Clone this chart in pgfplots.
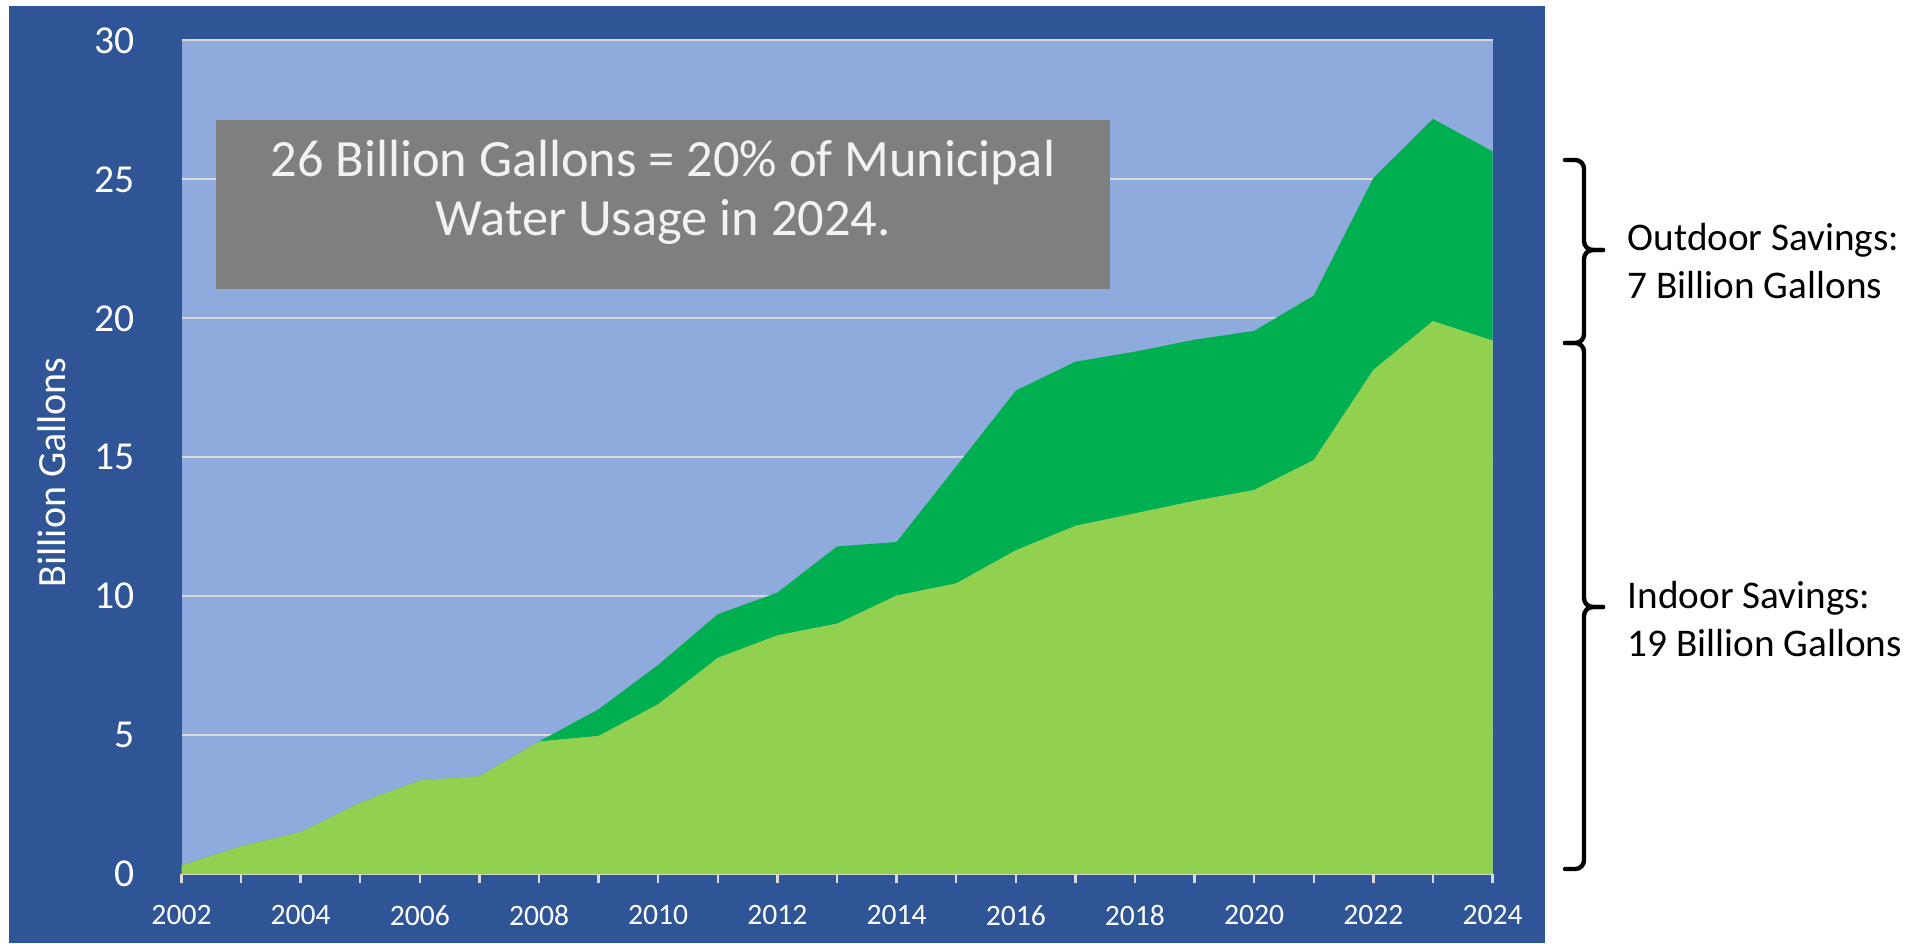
\documentclass[border=0pt]{standalone}
\usepackage{fontspec}
\setmainfont{Carlito}
\usepackage{pgfplots}
\pgfplotsset{compat=1.18}

\definecolor{panel}{HTML}{2F5597}
\definecolor{plotbg}{HTML}{8FAADC}
\definecolor{indoor}{HTML}{92D050}
\definecolor{outdoor}{HTML}{00B050}
\definecolor{gridc}{HTML}{D9D9D9}
\definecolor{boxc}{HTML}{7F7F7F}
\definecolor{boxtext}{HTML}{F2F2F2}

\begin{document}
\begin{tikzpicture}
\useasboundingbox (0,0) rectangle (480.75pt,235.75pt);
\fill[white] (0,0) rectangle (480.75pt,235.75pt);
% dark blue chart panel
\fill[panel] (2.15pt,0) rectangle (386.25pt,234.25pt);

\begin{axis}[
    at={(45.375pt,17.25pt)}, anchor=south west,
    scale only axis, width=327.75pt, height=208.375pt,
    xmin=2002, xmax=2024, ymin=0, ymax=30,
    axis background/.style={fill=plotbg},
    axis x line*=bottom, axis y line*=left,
    x axis line style={draw=gridc, line width=0.6pt, -},
    y axis line style={draw=none},
    xtick={2002,2004,...,2024},
    minor xtick={2003,2005,...,2023},
    ytick={0,5,...,30},
    tick align=outside,
    major tick length=2.25pt, minor tick length=2.25pt,
    xtick style={draw=gridc, line width=0.6pt},
    minor x tick style={draw=gridc, line width=0.6pt},
    ytick style={draw=none},
    ymajorgrids, grid style={draw=gridc, line width=0.5pt},
    /pgf/number format/assume math mode=true,
    xticklabel style={font=\fontsize{7.4}{9}\selectfont, text=white,
      anchor=north, inner sep=0pt, yshift=-5.35pt,
      /pgf/number format/1000 sep={}},
    yticklabel style={font=\fontsize{9.9}{12}\selectfont, text=white,
      anchor=east, inner sep=0pt, xshift=-9.25pt},
    ylabel={Billion Gallons},
    every axis y label/.style={at={(axis description cs:-0.0992,0.482)},
      anchor=center, rotate=90, font=\fontsize{10}{12}\selectfont, text=white},
    stack plots=y,
  ]
  % indoor savings (billion gallons)
  \addplot[fill=indoor, draw=none] coordinates {
    (2002,0.31) (2003,1.00) (2004,1.51) (2005,2.57) (2006,3.37) (2007,3.52)
    (2008,4.77) (2009,4.97) (2010,6.11) (2011,7.78) (2012,8.59) (2013,9.01)
    (2014,10.02) (2015,10.46) (2016,11.65) (2017,12.53) (2018,12.98)
    (2019,13.43) (2020,13.82) (2021,14.90) (2022,18.14) (2023,19.90)
    (2024,19.20)
  } \closedcycle;
  % outdoor savings, stacked on top
  \addplot[fill=outdoor, draw=none] coordinates {
    (2002,0) (2003,0) (2004,0) (2005,0) (2006,0) (2007,0)
    (2008,0) (2009,0.96) (2010,1.42) (2011,1.57) (2012,1.54) (2013,2.78)
    (2014,1.93) (2015,4.21) (2016,5.75) (2017,5.91) (2018,5.82)
    (2019,5.80) (2020,5.73) (2021,5.92) (2022,6.91) (2023,7.28)
    (2024,6.81)
  } \closedcycle;
\end{axis}

% callout box
\fill[boxc] (54pt,163.5pt) rectangle (277.5pt,205.75pt);
\node[align=center, text=boxtext, font=\fontsize{13.1}{14.7}\selectfont]
  at (165.75pt,187.6pt) {26 Billion Gallons = 20\% of Municipal\\Water Usage in 2024.};

% braces (square style, like a stretched text brace)
\begin{scope}[line width=1.1pt, rounded corners=2.2pt, line cap=round]
  \draw (391.25pt,195.75pt) -- (396pt,195.75pt) -- (396pt,173.25pt) -- (400.75pt,173.25pt);
  \draw (400.75pt,173.25pt) -- (396pt,173.25pt) -- (396pt,150pt) -- (391.25pt,150pt);
  \draw (391.25pt,150pt) -- (396pt,150pt) -- (396pt,84pt) -- (400.75pt,84pt);
  \draw (400.75pt,84pt) -- (396pt,84pt) -- (396pt,18.5pt) -- (391.25pt,18.5pt);
\end{scope}
\node[anchor=west, align=left, inner sep=0pt, font=\fontsize{9.8}{12}\selectfont]
  at (406.75pt,170.5pt) {Outdoor Savings:\\7 Billion Gallons};
\node[anchor=west, align=left, inner sep=0pt, font=\fontsize{9.8}{12}\selectfont]
  at (406.75pt,80.875pt) {Indoor Savings:\\19 Billion Gallons};
\end{tikzpicture}
\end{document}
